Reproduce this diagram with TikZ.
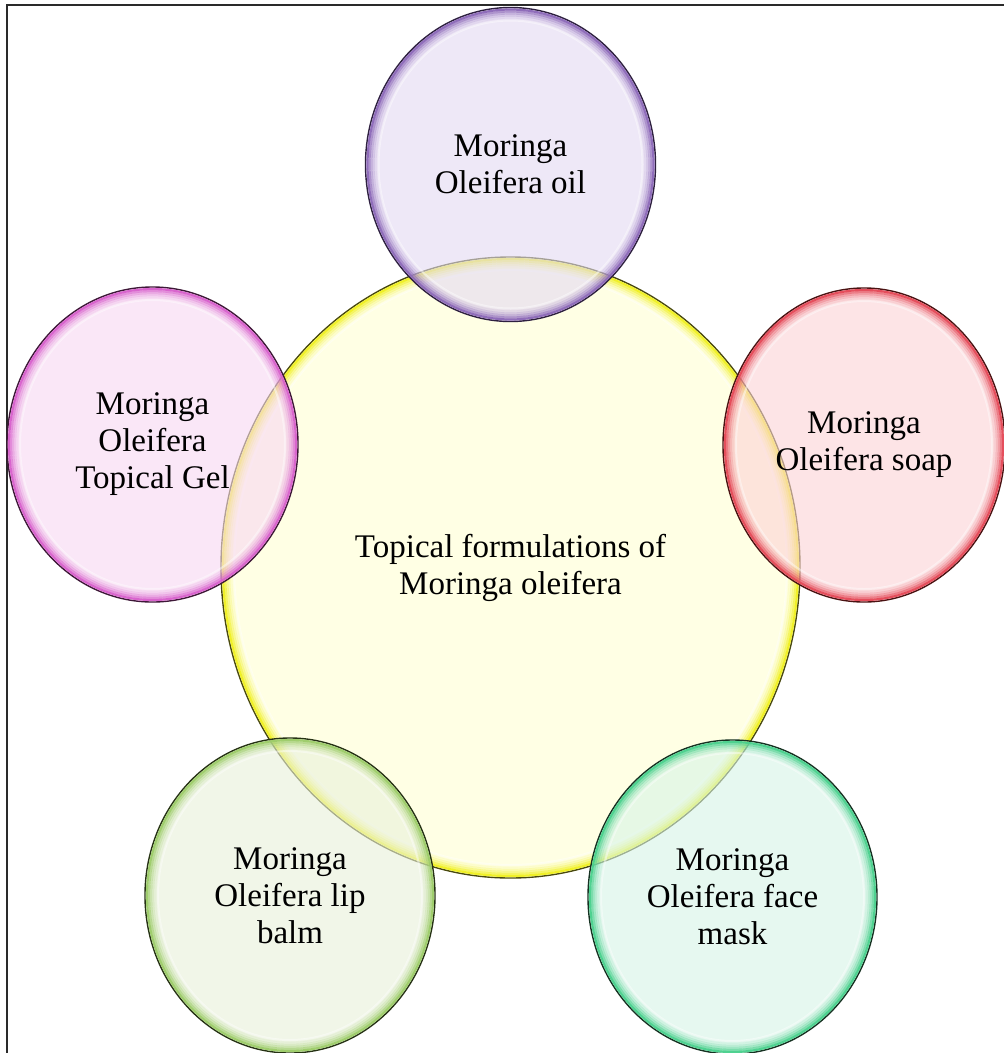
\documentclass[tikz,border=0pt]{standalone}
\usepackage{fontspec}
\setmainfont{Liberation Serif}
\usetikzlibrary{shapes.geometric}
\definecolor{yfill}{HTML}{FFFFE4}
\definecolor{yrim}{HTML}{F0F020}
\definecolor{yline}{HTML}{4A4A10}
\definecolor{pfill}{HTML}{E3DAF2}
\definecolor{prim}{HTML}{8C68B8}
\definecolor{pline}{HTML}{2E2040}
\definecolor{mfill}{HTML}{F8D8F2}
\definecolor{mrim}{HTML}{D860CC}
\definecolor{mline}{HTML}{3E1838}
\definecolor{rfill}{HTML}{FCD2D6}
\definecolor{rrim}{HTML}{E44856}
\definecolor{rline}{HTML}{4A1212}
\definecolor{gfill}{HTML}{E8F0DA}
\definecolor{grim}{HTML}{9CCC68}
\definecolor{gline}{HTML}{263214}
\definecolor{tfill}{HTML}{D6F4E7}
\definecolor{trim}{HTML}{48D08C}
\definecolor{tline}{HTML}{163222}
\definecolor{framec}{HTML}{2A2A2A}
\tikzset{
  bubble/.style={ellipse, inner sep=0pt, line width=1.4pt, fill opacity=0.6,
    text opacity=1, align=center, text=black,
    font=\fontsize{33}{37}\selectfont},
  framestyle/.style={draw=framec, line width=1.4pt}
}
\newcommand\glowring[4]{%
  \foreach \k/\o in {2/0.95,4/0.65,6/0.42,8/0.25,10/0.12,12/0.05}{%
    \draw[#4, line width=2.2pt, opacity=\o] (#1.center) ellipse [x radius=#2-\k, y radius=#3-\k];
  }%
  \draw[white, line width=2pt, opacity=0.45] (#1.center) ellipse [x radius=#2-13, y radius=#3-13];
}
\begin{document}
\begin{tikzpicture}[x=1pt, y=-1pt]
\useasboundingbox (0,0) rectangle (1004,1053);
\fill[white] (0,0) rectangle (1004,1053);
\draw[framestyle] (7,1053) -- (7,5) -- (1004,5);
% central
\node[bubble, fill=yfill, draw=yline, fill opacity=1, minimum width=579pt, minimum height=621pt] (core) at (510.5,567.5) {Topical formulations of\\Moringa oleifera};
\glowring{core}{289.5}{310.5}{yrim}
% top
\node[bubble, fill=pfill, draw=pline, minimum width=290pt, minimum height=314pt] (oil) at (510.5,164.5) {Moringa\\Oleifera oil};
\glowring{oil}{145}{157}{prim}
% left
\node[bubble, fill=mfill, draw=mline, minimum width=291pt, minimum height=315pt] (gel) at (152.5,444.5) {Moringa\\Oleifera\\Topical Gel};
\glowring{gel}{145.5}{157.5}{mrim}
% right
\node[bubble, fill=rfill, draw=rline, minimum width=282pt, minimum height=314pt] (soap) at (864,445) {Moringa\\Oleifera soap};
\glowring{soap}{141}{157}{rrim}
% bottom left
\node[bubble, fill=gfill, draw=gline, minimum width=290pt, minimum height=315pt] (balm) at (290,895.5) {Moringa\\Oleifera lip\\balm};
\glowring{balm}{145}{157.5}{grim}
% bottom right
\node[bubble, fill=tfill, draw=tline, minimum width=289pt, minimum height=314pt] (mask) at (732.5,897) {Moringa\\Oleifera face\\mask};
\glowring{mask}{144.5}{157}{trim}
\end{tikzpicture}
\end{document}
